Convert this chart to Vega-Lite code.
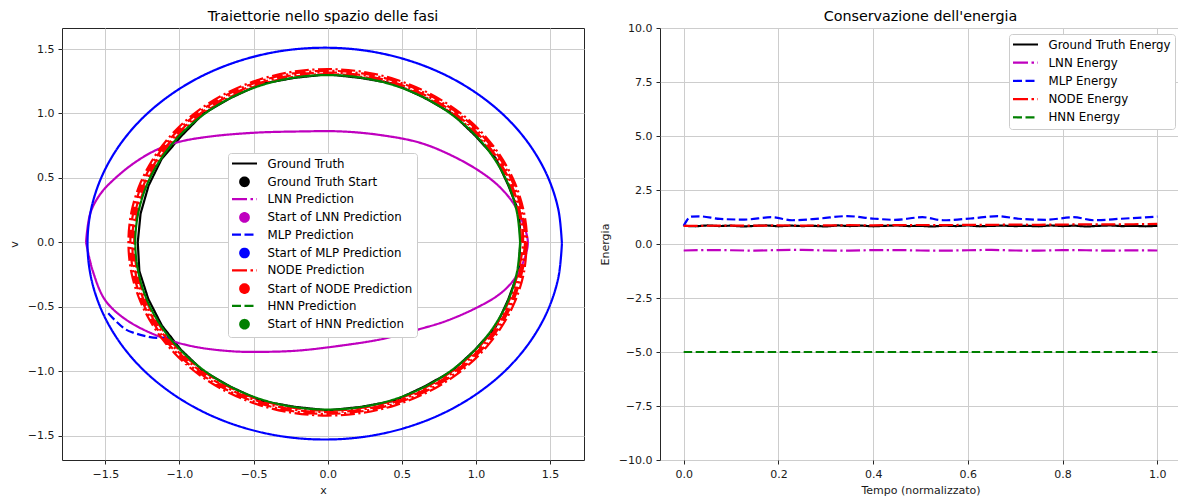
{
"$schema": "https://vega.github.io/schema/vega-lite/v6.json",
"padding": {"left": 7, "top": 9, "right": 0, "bottom": 0},
"spacing": 13,
"config": {
 "font": "DejaVu Sans",
 "view": {"stroke": "#262626", "strokeWidth": 1},
 "axis": {"labelFont": "DejaVu Sans", "labelFontSize": 11, "labelColor": "#1a1a1a", "titleFont": "DejaVu Sans", "titleFontSize": 11, "titleFontWeight": "normal", "titleColor": "#1a1a1a", "tickColor": "#262626", "tickSize": 4, "tickWidth": 1, "domain": false, "grid": true, "gridColor": "#cdcdcd", "gridWidth": 1, "labelPadding": 4, "labelOverlap": false, "labelFlush": false},
 "axisY": {"titlePadding": 8},
 "axisX": {"titlePadding": 5},
 "title": {"font": "DejaVu Sans", "fontSize": 14.3, "fontWeight": "normal", "color": "#000000"},
 "legend": {"labelFont": "DejaVu Sans", "labelFontSize": 11.8, "labelColor": "#000000", "symbolSize": 100, "symbolStrokeWidth": 2.2, "rowPadding": 5, "padding": 4, "fillColor": "#ffffff", "strokeColor": "#cccccc", "cornerRadius": 3, "symbolOffset": 6, "labelOffset": 16.5}
},
"datasets": {
 "starts": [
  {"s": "Ground Truth Start", "x": -1.069, "v": -0.735},
  {"s": "Start of LNN Prediction", "x": -1.069, "v": -0.735},
  {"s": "Start of MLP Prediction", "x": -1.069, "v": -0.735},
  {"s": "Start of NODE Prediction", "x": -1.069, "v": -0.735},
  {"s": "Start of HNN Prediction", "x": -1.069, "v": -0.735}
 ],
 "phase": [
  {"s":"Ground Truth","st":"solid","i":0,"x":1.300,"v":0},
  {"s":"Ground Truth","st":"solid","i":1,"x":1.292,"v":0.228},
  {"s":"Ground Truth","st":"solid","i":2,"x":1.218,"v":0.443},
  {"s":"Ground Truth","st":"solid","i":3,"x":1.133,"v":0.654},
  {"s":"Ground Truth","st":"solid","i":4,"x":0.991,"v":0.832},
  {"s":"Ground Truth","st":"solid","i":5,"x":0.839,"v":1.000},
  {"s":"Ground Truth","st":"solid","i":6,"x":0.649,"v":1.124},
  {"s":"Ground Truth","st":"solid","i":7,"x":0.448,"v":1.231},
  {"s":"Ground Truth","st":"solid","i":8,"x":0.225,"v":1.275},
  {"s":"Ground Truth","st":"solid","i":9,"x":0,"v":1.304},
  {"s":"Ground Truth","st":"solid","i":10,"x":-0.225,"v":1.276},
  {"s":"Ground Truth","st":"solid","i":11,"x":-0.448,"v":1.230},
  {"s":"Ground Truth","st":"solid","i":12,"x":-0.649,"v":1.123},
  {"s":"Ground Truth","st":"solid","i":13,"x":-0.839,"v":0.999},
  {"s":"Ground Truth","st":"solid","i":14,"x":-0.985,"v":0.827},
  {"s":"Ground Truth","st":"solid","i":15,"x":-1.120,"v":0.647},
  {"s":"Ground Truth","st":"solid","i":16,"x":-1.208,"v":0.440},
  {"s":"Ground Truth","st":"solid","i":17,"x":-1.262,"v":0.223},
  {"s":"Ground Truth","st":"solid","i":18,"x":-1.281,"v":0},
  {"s":"Ground Truth","st":"solid","i":19,"x":-1.270,"v":-0.224},
  {"s":"Ground Truth","st":"solid","i":20,"x":-1.210,"v":-0.440},
  {"s":"Ground Truth","st":"solid","i":21,"x":-1.118,"v":-0.646},
  {"s":"Ground Truth","st":"solid","i":22,"x":-0.991,"v":-0.832},
  {"s":"Ground Truth","st":"solid","i":23,"x":-0.839,"v":-1.000},
  {"s":"Ground Truth","st":"solid","i":24,"x":-0.649,"v":-1.124},
  {"s":"Ground Truth","st":"solid","i":25,"x":-0.448,"v":-1.231},
  {"s":"Ground Truth","st":"solid","i":26,"x":-0.225,"v":-1.276},
  {"s":"Ground Truth","st":"solid","i":27,"x":0,"v":-1.304},
  {"s":"Ground Truth","st":"solid","i":28,"x":0.225,"v":-1.277},
  {"s":"Ground Truth","st":"solid","i":29,"x":0.448,"v":-1.230},
  {"s":"Ground Truth","st":"solid","i":30,"x":0.648,"v":-1.121},
  {"s":"Ground Truth","st":"solid","i":31,"x":0.839,"v":-1.000},
  {"s":"Ground Truth","st":"solid","i":32,"x":0.994,"v":-0.834},
  {"s":"Ground Truth","st":"solid","i":33,"x":1.134,"v":-0.655},
  {"s":"Ground Truth","st":"solid","i":34,"x":1.218,"v":-0.443},
  {"s":"Ground Truth","st":"solid","i":35,"x":1.287,"v":-0.227},
  {"s":"Ground Truth","st":"solid","i":36,"x":1.300,"v":0},

  {"s":"LNN Prediction","st":"solid","i":0,"x":-1.63,"v":0.0},
  {"s":"LNN Prediction","st":"solid","i":1,"x":-1.60,"v":0.23},
  {"s":"LNN Prediction","st":"solid","i":2,"x":-1.53,"v":0.38},
  {"s":"LNN Prediction","st":"solid","i":3,"x":-1.44,"v":0.49},
  {"s":"LNN Prediction","st":"solid","i":4,"x":-1.30,"v":0.62},
  {"s":"LNN Prediction","st":"solid","i":5,"x":-1.15,"v":0.72},
  {"s":"LNN Prediction","st":"solid","i":6,"x":-1.0,"v":0.78},
  {"s":"LNN Prediction","st":"solid","i":7,"x":-0.8,"v":0.82},
  {"s":"LNN Prediction","st":"solid","i":8,"x":-0.5,"v":0.85},
  {"s":"LNN Prediction","st":"solid","i":9,"x":-0.2,"v":0.86},
  {"s":"LNN Prediction","st":"solid","i":10,"x":0.1,"v":0.86},
  {"s":"LNN Prediction","st":"solid","i":11,"x":0.37,"v":0.83},
  {"s":"LNN Prediction","st":"solid","i":12,"x":0.63,"v":0.77},
  {"s":"LNN Prediction","st":"solid","i":13,"x":0.86,"v":0.66},
  {"s":"LNN Prediction","st":"solid","i":14,"x":1.04,"v":0.54},
  {"s":"LNN Prediction","st":"solid","i":15,"x":1.16,"v":0.43},
  {"s":"LNN Prediction","st":"solid","i":16,"x":1.26,"v":0.29},
  {"s":"LNN Prediction","st":"solid","i":17,"x":1.32,"v":0.14},
  {"s":"LNN Prediction","st":"solid","i":18,"x":1.35,"v":0.0},
  {"s":"LNN Prediction","st":"solid","i":19,"x":1.32,"v":-0.15},
  {"s":"LNN Prediction","st":"solid","i":20,"x":1.25,"v":-0.30},
  {"s":"LNN Prediction","st":"solid","i":21,"x":1.15,"v":-0.41},
  {"s":"LNN Prediction","st":"solid","i":22,"x":1.0,"v":-0.51},
  {"s":"LNN Prediction","st":"solid","i":23,"x":0.8,"v":-0.61},
  {"s":"LNN Prediction","st":"solid","i":24,"x":0.6,"v":-0.68},
  {"s":"LNN Prediction","st":"solid","i":25,"x":0.37,"v":-0.75},
  {"s":"LNN Prediction","st":"solid","i":26,"x":0.1,"v":-0.80},
  {"s":"LNN Prediction","st":"solid","i":27,"x":-0.2,"v":-0.84},
  {"s":"LNN Prediction","st":"solid","i":28,"x":-0.45,"v":-0.85},
  {"s":"LNN Prediction","st":"solid","i":29,"x":-0.65,"v":-0.845},
  {"s":"LNN Prediction","st":"solid","i":30,"x":-0.91,"v":-0.807},
  {"s":"LNN Prediction","st":"solid","i":31,"x":-1.14,"v":-0.729},
  {"s":"LNN Prediction","st":"solid","i":32,"x":-1.36,"v":-0.60},
  {"s":"LNN Prediction","st":"solid","i":33,"x":-1.50,"v":-0.45},
  {"s":"LNN Prediction","st":"solid","i":34,"x":-1.585,"v":-0.22},
  {"s":"LNN Prediction","st":"solid","i":35,"x":-1.63,"v":0.0},

  {"s":"MLP Prediction","st":"dashed","i":0,"x":-1.069,"v":-0.735},
  {"s":"MLP Prediction","st":"dashed","i":1,"x":-1.15,"v":-0.742},
  {"s":"MLP Prediction","st":"dashed","i":2,"x":-1.226,"v":-0.729},
  {"s":"MLP Prediction","st":"dashed","i":3,"x":-1.30,"v":-0.705},
  {"s":"MLP Prediction","st":"dashed","i":4,"x":-1.361,"v":-0.677},
  {"s":"MLP Prediction","st":"dashed","i":5,"x":-1.43,"v":-0.61},
  {"s":"MLP Prediction","st":"dashed","i":6,"x":-1.496,"v":-0.53},

  {"s":"MLP Prediction","st":"solid","i":0,"x":1.580,"v":-0.010},
  {"s":"MLP Prediction","st":"solid","i":1,"x":1.556,"v":0.254},
  {"s":"MLP Prediction","st":"solid","i":2,"x":1.484,"v":0.510},
  {"s":"MLP Prediction","st":"solid","i":3,"x":1.366,"v":0.750},
  {"s":"MLP Prediction","st":"solid","i":4,"x":1.206,"v":0.967},
  {"s":"MLP Prediction","st":"solid","i":5,"x":1.008,"v":1.154},
  {"s":"MLP Prediction","st":"solid","i":6,"x":0.780,"v":1.306},
  {"s":"MLP Prediction","st":"solid","i":7,"x":0.527,"v":1.418},
  {"s":"MLP Prediction","st":"solid","i":8,"x":0.258,"v":1.487},
  {"s":"MLP Prediction","st":"solid","i":9,"x":-0.020,"v":1.510},
  {"s":"MLP Prediction","st":"solid","i":10,"x":-0.298,"v":1.487},
  {"s":"MLP Prediction","st":"solid","i":11,"x":-0.567,"v":1.418},
  {"s":"MLP Prediction","st":"solid","i":12,"x":-0.820,"v":1.306},
  {"s":"MLP Prediction","st":"solid","i":13,"x":-1.048,"v":1.154},
  {"s":"MLP Prediction","st":"solid","i":14,"x":-1.246,"v":0.967},
  {"s":"MLP Prediction","st":"solid","i":15,"x":-1.406,"v":0.750},
  {"s":"MLP Prediction","st":"solid","i":16,"x":-1.524,"v":0.510},
  {"s":"MLP Prediction","st":"solid","i":17,"x":-1.596,"v":0.254},
  {"s":"MLP Prediction","st":"solid","i":18,"x":-1.620,"v":-0.010},
  {"s":"MLP Prediction","st":"solid","i":19,"x":-1.596,"v":-0.274},
  {"s":"MLP Prediction","st":"solid","i":20,"x":-1.524,"v":-0.530},
  {"s":"MLP Prediction","st":"solid","i":21,"x":-1.406,"v":-0.770},
  {"s":"MLP Prediction","st":"solid","i":22,"x":-1.246,"v":-0.987},
  {"s":"MLP Prediction","st":"solid","i":23,"x":-1.048,"v":-1.174},
  {"s":"MLP Prediction","st":"solid","i":24,"x":-0.820,"v":-1.326},
  {"s":"MLP Prediction","st":"solid","i":25,"x":-0.567,"v":-1.438},
  {"s":"MLP Prediction","st":"solid","i":26,"x":-0.298,"v":-1.507},
  {"s":"MLP Prediction","st":"solid","i":27,"x":-0.020,"v":-1.530},
  {"s":"MLP Prediction","st":"solid","i":28,"x":0.258,"v":-1.507},
  {"s":"MLP Prediction","st":"solid","i":29,"x":0.527,"v":-1.438},
  {"s":"MLP Prediction","st":"solid","i":30,"x":0.780,"v":-1.326},
  {"s":"MLP Prediction","st":"solid","i":31,"x":1.008,"v":-1.174},
  {"s":"MLP Prediction","st":"solid","i":32,"x":1.206,"v":-0.987},
  {"s":"MLP Prediction","st":"solid","i":33,"x":1.366,"v":-0.770},
  {"s":"MLP Prediction","st":"solid","i":34,"x":1.484,"v":-0.530},
  {"s":"MLP Prediction","st":"solid","i":35,"x":1.556,"v":-0.274},
  {"s":"MLP Prediction","st":"solid","i":36,"x":1.580,"v":-0.010},

  {"s":"NODE Prediction","st":"dashdot","i":0,"x":1.305,"v":0},
  {"s":"NODE Prediction","st":"dashdot","i":1,"x":1.285,"v":0.227},
  {"s":"NODE Prediction","st":"dashdot","i":2,"x":1.226,"v":0.446},
  {"s":"NODE Prediction","st":"dashdot","i":3,"x":1.130,"v":0.653},
  {"s":"NODE Prediction","st":"dashdot","i":4,"x":1.000,"v":0.839},
  {"s":"NODE Prediction","st":"dashdot","i":5,"x":0.839,"v":1.000},
  {"s":"NODE Prediction","st":"dashdot","i":6,"x":0.653,"v":1.130},
  {"s":"NODE Prediction","st":"dashdot","i":7,"x":0.446,"v":1.226},
  {"s":"NODE Prediction","st":"dashdot","i":8,"x":0.227,"v":1.285},
  {"s":"NODE Prediction","st":"dashdot","i":9,"x":0,"v":1.305},
  {"s":"NODE Prediction","st":"dashdot","i":10,"x":-0.227,"v":1.285},
  {"s":"NODE Prediction","st":"dashdot","i":11,"x":-0.446,"v":1.226},
  {"s":"NODE Prediction","st":"dashdot","i":12,"x":-0.653,"v":1.130},
  {"s":"NODE Prediction","st":"dashdot","i":13,"x":-0.839,"v":1.000},
  {"s":"NODE Prediction","st":"dashdot","i":14,"x":-1.000,"v":0.839},
  {"s":"NODE Prediction","st":"dashdot","i":15,"x":-1.130,"v":0.653},
  {"s":"NODE Prediction","st":"dashdot","i":16,"x":-1.226,"v":0.446},
  {"s":"NODE Prediction","st":"dashdot","i":17,"x":-1.285,"v":0.227},
  {"s":"NODE Prediction","st":"dashdot","i":18,"x":-1.305,"v":0},
  {"s":"NODE Prediction","st":"dashdot","i":19,"x":-1.285,"v":-0.227},
  {"s":"NODE Prediction","st":"dashdot","i":20,"x":-1.226,"v":-0.446},
  {"s":"NODE Prediction","st":"dashdot","i":21,"x":-1.130,"v":-0.653},
  {"s":"NODE Prediction","st":"dashdot","i":22,"x":-1.000,"v":-0.839},
  {"s":"NODE Prediction","st":"dashdot","i":23,"x":-0.839,"v":-1.000},
  {"s":"NODE Prediction","st":"dashdot","i":24,"x":-0.653,"v":-1.130},
  {"s":"NODE Prediction","st":"dashdot","i":25,"x":-0.446,"v":-1.226},
  {"s":"NODE Prediction","st":"dashdot","i":26,"x":-0.227,"v":-1.285},
  {"s":"NODE Prediction","st":"dashdot","i":27,"x":0,"v":-1.305},
  {"s":"NODE Prediction","st":"dashdot","i":28,"x":0.227,"v":-1.285},
  {"s":"NODE Prediction","st":"dashdot","i":29,"x":0.446,"v":-1.226},
  {"s":"NODE Prediction","st":"dashdot","i":30,"x":0.653,"v":-1.130},
  {"s":"NODE Prediction","st":"dashdot","i":31,"x":0.839,"v":-1.000},
  {"s":"NODE Prediction","st":"dashdot","i":32,"x":1.000,"v":-0.839},
  {"s":"NODE Prediction","st":"dashdot","i":33,"x":1.130,"v":-0.653},
  {"s":"NODE Prediction","st":"dashdot","i":34,"x":1.226,"v":-0.446},
  {"s":"NODE Prediction","st":"dashdot","i":35,"x":1.285,"v":-0.227},
  {"s":"NODE Prediction","st":"dashdot","i":36,"x":1.318,"v":0},
  {"s":"NODE Prediction","st":"dashdot","i":37,"x":1.298,"v":0.229},
  {"s":"NODE Prediction","st":"dashdot","i":38,"x":1.239,"v":0.451},
  {"s":"NODE Prediction","st":"dashdot","i":39,"x":1.141,"v":0.659},
  {"s":"NODE Prediction","st":"dashdot","i":40,"x":1.010,"v":0.847},
  {"s":"NODE Prediction","st":"dashdot","i":41,"x":0.847,"v":1.010},
  {"s":"NODE Prediction","st":"dashdot","i":42,"x":0.659,"v":1.141},
  {"s":"NODE Prediction","st":"dashdot","i":43,"x":0.451,"v":1.239},
  {"s":"NODE Prediction","st":"dashdot","i":44,"x":0.229,"v":1.298},
  {"s":"NODE Prediction","st":"dashdot","i":45,"x":0,"v":1.318},
  {"s":"NODE Prediction","st":"dashdot","i":46,"x":-0.229,"v":1.298},
  {"s":"NODE Prediction","st":"dashdot","i":47,"x":-0.451,"v":1.239},
  {"s":"NODE Prediction","st":"dashdot","i":48,"x":-0.659,"v":1.141},
  {"s":"NODE Prediction","st":"dashdot","i":49,"x":-0.847,"v":1.010},
  {"s":"NODE Prediction","st":"dashdot","i":50,"x":-1.010,"v":0.847},
  {"s":"NODE Prediction","st":"dashdot","i":51,"x":-1.141,"v":0.659},
  {"s":"NODE Prediction","st":"dashdot","i":52,"x":-1.239,"v":0.451},
  {"s":"NODE Prediction","st":"dashdot","i":53,"x":-1.298,"v":0.229},
  {"s":"NODE Prediction","st":"dashdot","i":54,"x":-1.318,"v":0},
  {"s":"NODE Prediction","st":"dashdot","i":55,"x":-1.298,"v":-0.229},
  {"s":"NODE Prediction","st":"dashdot","i":56,"x":-1.239,"v":-0.451},
  {"s":"NODE Prediction","st":"dashdot","i":57,"x":-1.141,"v":-0.659},
  {"s":"NODE Prediction","st":"dashdot","i":58,"x":-1.010,"v":-0.847},
  {"s":"NODE Prediction","st":"dashdot","i":59,"x":-0.847,"v":-1.010},
  {"s":"NODE Prediction","st":"dashdot","i":60,"x":-0.659,"v":-1.141},
  {"s":"NODE Prediction","st":"dashdot","i":61,"x":-0.451,"v":-1.239},
  {"s":"NODE Prediction","st":"dashdot","i":62,"x":-0.229,"v":-1.298},
  {"s":"NODE Prediction","st":"dashdot","i":63,"x":0,"v":-1.318},
  {"s":"NODE Prediction","st":"dashdot","i":64,"x":0.229,"v":-1.298},
  {"s":"NODE Prediction","st":"dashdot","i":65,"x":0.451,"v":-1.239},
  {"s":"NODE Prediction","st":"dashdot","i":66,"x":0.659,"v":-1.141},
  {"s":"NODE Prediction","st":"dashdot","i":67,"x":0.847,"v":-1.010},
  {"s":"NODE Prediction","st":"dashdot","i":68,"x":1.010,"v":-0.847},
  {"s":"NODE Prediction","st":"dashdot","i":69,"x":1.141,"v":-0.659},
  {"s":"NODE Prediction","st":"dashdot","i":70,"x":1.239,"v":-0.451},
  {"s":"NODE Prediction","st":"dashdot","i":71,"x":1.298,"v":-0.229},
  {"s":"NODE Prediction","st":"dashdot","i":72,"x":1.331,"v":0},
  {"s":"NODE Prediction","st":"dashdot","i":73,"x":1.311,"v":0.231},
  {"s":"NODE Prediction","st":"dashdot","i":74,"x":1.251,"v":0.455},
  {"s":"NODE Prediction","st":"dashdot","i":75,"x":1.153,"v":0.666},
  {"s":"NODE Prediction","st":"dashdot","i":76,"x":1.020,"v":0.856},
  {"s":"NODE Prediction","st":"dashdot","i":77,"x":0.856,"v":1.020},
  {"s":"NODE Prediction","st":"dashdot","i":78,"x":0.666,"v":1.153},
  {"s":"NODE Prediction","st":"dashdot","i":79,"x":0.455,"v":1.251},
  {"s":"NODE Prediction","st":"dashdot","i":80,"x":0.231,"v":1.311},
  {"s":"NODE Prediction","st":"dashdot","i":81,"x":0,"v":1.331},
  {"s":"NODE Prediction","st":"dashdot","i":82,"x":-0.231,"v":1.311},
  {"s":"NODE Prediction","st":"dashdot","i":83,"x":-0.455,"v":1.251},
  {"s":"NODE Prediction","st":"dashdot","i":84,"x":-0.666,"v":1.153},
  {"s":"NODE Prediction","st":"dashdot","i":85,"x":-0.856,"v":1.020},
  {"s":"NODE Prediction","st":"dashdot","i":86,"x":-1.020,"v":0.856},
  {"s":"NODE Prediction","st":"dashdot","i":87,"x":-1.153,"v":0.666},
  {"s":"NODE Prediction","st":"dashdot","i":88,"x":-1.251,"v":0.455},
  {"s":"NODE Prediction","st":"dashdot","i":89,"x":-1.311,"v":0.231},
  {"s":"NODE Prediction","st":"dashdot","i":90,"x":-1.331,"v":0},
  {"s":"NODE Prediction","st":"dashdot","i":91,"x":-1.311,"v":-0.231},
  {"s":"NODE Prediction","st":"dashdot","i":92,"x":-1.251,"v":-0.455},
  {"s":"NODE Prediction","st":"dashdot","i":93,"x":-1.153,"v":-0.666},
  {"s":"NODE Prediction","st":"dashdot","i":94,"x":-1.020,"v":-0.856},
  {"s":"NODE Prediction","st":"dashdot","i":95,"x":-0.856,"v":-1.020},
  {"s":"NODE Prediction","st":"dashdot","i":96,"x":-0.666,"v":-1.153},
  {"s":"NODE Prediction","st":"dashdot","i":97,"x":-0.455,"v":-1.251},
  {"s":"NODE Prediction","st":"dashdot","i":98,"x":-0.231,"v":-1.311},
  {"s":"NODE Prediction","st":"dashdot","i":99,"x":0,"v":-1.331},
  {"s":"NODE Prediction","st":"dashdot","i":100,"x":0.231,"v":-1.311},
  {"s":"NODE Prediction","st":"dashdot","i":101,"x":0.455,"v":-1.251},
  {"s":"NODE Prediction","st":"dashdot","i":102,"x":0.666,"v":-1.153},
  {"s":"NODE Prediction","st":"dashdot","i":103,"x":0.856,"v":-1.020},
  {"s":"NODE Prediction","st":"dashdot","i":104,"x":1.020,"v":-0.856},
  {"s":"NODE Prediction","st":"dashdot","i":105,"x":1.153,"v":-0.666},
  {"s":"NODE Prediction","st":"dashdot","i":106,"x":1.251,"v":-0.455},
  {"s":"NODE Prediction","st":"dashdot","i":107,"x":1.311,"v":-0.231},
  {"s":"NODE Prediction","st":"dashdot","i":108,"x":1.344,"v":0},
  {"s":"NODE Prediction","st":"dashdot","i":109,"x":1.324,"v":0.233},
  {"s":"NODE Prediction","st":"dashdot","i":110,"x":1.263,"v":0.460},
  {"s":"NODE Prediction","st":"dashdot","i":111,"x":1.164,"v":0.672},
  {"s":"NODE Prediction","st":"dashdot","i":112,"x":1.030,"v":0.864},
  {"s":"NODE Prediction","st":"dashdot","i":113,"x":0.864,"v":1.030},
  {"s":"NODE Prediction","st":"dashdot","i":114,"x":0.672,"v":1.164},
  {"s":"NODE Prediction","st":"dashdot","i":115,"x":0.460,"v":1.263},
  {"s":"NODE Prediction","st":"dashdot","i":116,"x":0.233,"v":1.324},
  {"s":"NODE Prediction","st":"dashdot","i":117,"x":0,"v":1.344},
  {"s":"NODE Prediction","st":"dashdot","i":118,"x":-0.233,"v":1.324},
  {"s":"NODE Prediction","st":"dashdot","i":119,"x":-0.460,"v":1.263},
  {"s":"NODE Prediction","st":"dashdot","i":120,"x":-0.672,"v":1.164},
  {"s":"NODE Prediction","st":"dashdot","i":121,"x":-0.864,"v":1.030},
  {"s":"NODE Prediction","st":"dashdot","i":122,"x":-1.030,"v":0.864},
  {"s":"NODE Prediction","st":"dashdot","i":123,"x":-1.164,"v":0.672},
  {"s":"NODE Prediction","st":"dashdot","i":124,"x":-1.263,"v":0.460},
  {"s":"NODE Prediction","st":"dashdot","i":125,"x":-1.324,"v":0.233},
  {"s":"NODE Prediction","st":"dashdot","i":126,"x":-1.344,"v":0},
  {"s":"NODE Prediction","st":"dashdot","i":127,"x":-1.324,"v":-0.233},
  {"s":"NODE Prediction","st":"dashdot","i":128,"x":-1.263,"v":-0.460},
  {"s":"NODE Prediction","st":"dashdot","i":129,"x":-1.164,"v":-0.672},
  {"s":"NODE Prediction","st":"dashdot","i":130,"x":-1.030,"v":-0.864},
  {"s":"NODE Prediction","st":"dashdot","i":131,"x":-0.864,"v":-1.030},
  {"s":"NODE Prediction","st":"dashdot","i":132,"x":-0.672,"v":-1.164},
  {"s":"NODE Prediction","st":"dashdot","i":133,"x":-0.460,"v":-1.263},
  {"s":"NODE Prediction","st":"dashdot","i":134,"x":-0.233,"v":-1.324},
  {"s":"NODE Prediction","st":"dashdot","i":135,"x":0,"v":-1.344},
  {"s":"NODE Prediction","st":"dashdot","i":136,"x":0.233,"v":-1.324},
  {"s":"NODE Prediction","st":"dashdot","i":137,"x":0.460,"v":-1.263},
  {"s":"NODE Prediction","st":"dashdot","i":138,"x":0.672,"v":-1.164},
  {"s":"NODE Prediction","st":"dashdot","i":139,"x":0.864,"v":-1.030},
  {"s":"NODE Prediction","st":"dashdot","i":140,"x":1.030,"v":-0.864},
  {"s":"NODE Prediction","st":"dashdot","i":141,"x":1.164,"v":-0.672},
  {"s":"NODE Prediction","st":"dashdot","i":142,"x":1.263,"v":-0.460},
  {"s":"NODE Prediction","st":"dashdot","i":143,"x":1.324,"v":-0.233},
  {"s":"NODE Prediction","st":"dashdot","i":144,"x":1.344,"v":0},

  {"s":"HNN Prediction","st":"solid","i":0,"x":1.298,"v":0},
  {"s":"HNN Prediction","st":"solid","i":1,"x":1.278,"v":0.225},
  {"s":"HNN Prediction","st":"solid","i":2,"x":1.220,"v":0.444},
  {"s":"HNN Prediction","st":"solid","i":3,"x":1.124,"v":0.649},
  {"s":"HNN Prediction","st":"solid","i":4,"x":0.994,"v":0.834},
  {"s":"HNN Prediction","st":"solid","i":5,"x":0.834,"v":0.994},
  {"s":"HNN Prediction","st":"solid","i":6,"x":0.649,"v":1.124},
  {"s":"HNN Prediction","st":"solid","i":7,"x":0.444,"v":1.220},
  {"s":"HNN Prediction","st":"solid","i":8,"x":0.225,"v":1.278},
  {"s":"HNN Prediction","st":"solid","i":9,"x":0,"v":1.298},
  {"s":"HNN Prediction","st":"solid","i":10,"x":-0.225,"v":1.278},
  {"s":"HNN Prediction","st":"solid","i":11,"x":-0.444,"v":1.220},
  {"s":"HNN Prediction","st":"solid","i":12,"x":-0.649,"v":1.124},
  {"s":"HNN Prediction","st":"solid","i":13,"x":-0.834,"v":0.994},
  {"s":"HNN Prediction","st":"solid","i":14,"x":-0.994,"v":0.834},
  {"s":"HNN Prediction","st":"solid","i":15,"x":-1.124,"v":0.649},
  {"s":"HNN Prediction","st":"solid","i":16,"x":-1.220,"v":0.444},
  {"s":"HNN Prediction","st":"solid","i":17,"x":-1.278,"v":0.225},
  {"s":"HNN Prediction","st":"solid","i":18,"x":-1.298,"v":0},
  {"s":"HNN Prediction","st":"solid","i":19,"x":-1.278,"v":-0.225},
  {"s":"HNN Prediction","st":"solid","i":20,"x":-1.220,"v":-0.444},
  {"s":"HNN Prediction","st":"solid","i":21,"x":-1.124,"v":-0.649},
  {"s":"HNN Prediction","st":"solid","i":22,"x":-0.994,"v":-0.834},
  {"s":"HNN Prediction","st":"solid","i":23,"x":-0.834,"v":-0.994},
  {"s":"HNN Prediction","st":"solid","i":24,"x":-0.649,"v":-1.124},
  {"s":"HNN Prediction","st":"solid","i":25,"x":-0.444,"v":-1.220},
  {"s":"HNN Prediction","st":"solid","i":26,"x":-0.225,"v":-1.278},
  {"s":"HNN Prediction","st":"solid","i":27,"x":0,"v":-1.298},
  {"s":"HNN Prediction","st":"solid","i":28,"x":0.225,"v":-1.278},
  {"s":"HNN Prediction","st":"solid","i":29,"x":0.444,"v":-1.220},
  {"s":"HNN Prediction","st":"solid","i":30,"x":0.649,"v":-1.124},
  {"s":"HNN Prediction","st":"solid","i":31,"x":0.834,"v":-0.994},
  {"s":"HNN Prediction","st":"solid","i":32,"x":0.994,"v":-0.834},
  {"s":"HNN Prediction","st":"solid","i":33,"x":1.124,"v":-0.649},
  {"s":"HNN Prediction","st":"solid","i":34,"x":1.220,"v":-0.444},
  {"s":"HNN Prediction","st":"solid","i":35,"x":1.278,"v":-0.225},
  {"s":"HNN Prediction","st":"solid","i":36,"x":1.298,"v":0}
 ],
 "energy": [
  {"s":"Ground Truth Energy","st":"solid","t":0,"e":0.84},
  {"s":"Ground Truth Energy","st":"solid","t":0.025,"e":0.82},
  {"s":"Ground Truth Energy","st":"solid","t":0.05,"e":0.86},
  {"s":"Ground Truth Energy","st":"solid","t":0.075,"e":0.83},
  {"s":"Ground Truth Energy","st":"solid","t":0.1,"e":0.85},
  {"s":"Ground Truth Energy","st":"solid","t":0.125,"e":0.81},
  {"s":"Ground Truth Energy","st":"solid","t":0.15,"e":0.84},
  {"s":"Ground Truth Energy","st":"solid","t":0.175,"e":0.86},
  {"s":"Ground Truth Energy","st":"solid","t":0.2,"e":0.82},
  {"s":"Ground Truth Energy","st":"solid","t":0.225,"e":0.85},
  {"s":"Ground Truth Energy","st":"solid","t":0.25,"e":0.83},
  {"s":"Ground Truth Energy","st":"solid","t":0.275,"e":0.84},
  {"s":"Ground Truth Energy","st":"solid","t":0.3,"e":0.81},
  {"s":"Ground Truth Energy","st":"solid","t":0.325,"e":0.86},
  {"s":"Ground Truth Energy","st":"solid","t":0.35,"e":0.83},
  {"s":"Ground Truth Energy","st":"solid","t":0.375,"e":0.85},
  {"s":"Ground Truth Energy","st":"solid","t":0.4,"e":0.82},
  {"s":"Ground Truth Energy","st":"solid","t":0.425,"e":0.84},
  {"s":"Ground Truth Energy","st":"solid","t":0.45,"e":0.86},
  {"s":"Ground Truth Energy","st":"solid","t":0.475,"e":0.83},
  {"s":"Ground Truth Energy","st":"solid","t":0.5,"e":0.84},
  {"s":"Ground Truth Energy","st":"solid","t":0.525,"e":0.81},
  {"s":"Ground Truth Energy","st":"solid","t":0.55,"e":0.85},
  {"s":"Ground Truth Energy","st":"solid","t":0.575,"e":0.83},
  {"s":"Ground Truth Energy","st":"solid","t":0.6,"e":0.86},
  {"s":"Ground Truth Energy","st":"solid","t":0.625,"e":0.82},
  {"s":"Ground Truth Energy","st":"solid","t":0.65,"e":0.84},
  {"s":"Ground Truth Energy","st":"solid","t":0.675,"e":0.85},
  {"s":"Ground Truth Energy","st":"solid","t":0.7,"e":0.83},
  {"s":"Ground Truth Energy","st":"solid","t":0.725,"e":0.84},
  {"s":"Ground Truth Energy","st":"solid","t":0.75,"e":0.82},
  {"s":"Ground Truth Energy","st":"solid","t":0.775,"e":0.86},
  {"s":"Ground Truth Energy","st":"solid","t":0.8,"e":0.83},
  {"s":"Ground Truth Energy","st":"solid","t":0.825,"e":0.85},
  {"s":"Ground Truth Energy","st":"solid","t":0.85,"e":0.81},
  {"s":"Ground Truth Energy","st":"solid","t":0.875,"e":0.84},
  {"s":"Ground Truth Energy","st":"solid","t":0.9,"e":0.86},
  {"s":"Ground Truth Energy","st":"solid","t":0.925,"e":0.83},
  {"s":"Ground Truth Energy","st":"solid","t":0.95,"e":0.84},
  {"s":"Ground Truth Energy","st":"solid","t":0.975,"e":0.82},
  {"s":"Ground Truth Energy","st":"solid","t":1.0,"e":0.84},

  {"s":"LNN Energy","st":"dashdot","t":0,"e":-0.30},
  {"s":"LNN Energy","st":"dashdot","t":0.05,"e":-0.28},
  {"s":"LNN Energy","st":"dashdot","t":0.1,"e":-0.29},
  {"s":"LNN Energy","st":"dashdot","t":0.15,"e":-0.31},
  {"s":"LNN Energy","st":"dashdot","t":0.2,"e":-0.28},
  {"s":"LNN Energy","st":"dashdot","t":0.25,"e":-0.27},
  {"s":"LNN Energy","st":"dashdot","t":0.3,"e":-0.30},
  {"s":"LNN Energy","st":"dashdot","t":0.35,"e":-0.31},
  {"s":"LNN Energy","st":"dashdot","t":0.4,"e":-0.28},
  {"s":"LNN Energy","st":"dashdot","t":0.45,"e":-0.28},
  {"s":"LNN Energy","st":"dashdot","t":0.5,"e":-0.30},
  {"s":"LNN Energy","st":"dashdot","t":0.55,"e":-0.31},
  {"s":"LNN Energy","st":"dashdot","t":0.6,"e":-0.29},
  {"s":"LNN Energy","st":"dashdot","t":0.65,"e":-0.27},
  {"s":"LNN Energy","st":"dashdot","t":0.7,"e":-0.30},
  {"s":"LNN Energy","st":"dashdot","t":0.75,"e":-0.31},
  {"s":"LNN Energy","st":"dashdot","t":0.8,"e":-0.28},
  {"s":"LNN Energy","st":"dashdot","t":0.85,"e":-0.29},
  {"s":"LNN Energy","st":"dashdot","t":0.9,"e":-0.31},
  {"s":"LNN Energy","st":"dashdot","t":0.95,"e":-0.29},
  {"s":"LNN Energy","st":"dashdot","t":1.0,"e":-0.30},

  {"s":"MLP Energy","st":"dashed","t":0,"e":0.84},
  {"s":"MLP Energy","st":"dashed","t":0.016,"e":1.27},
  {"s":"MLP Energy","st":"dashed","t":0.034,"e":1.28},
  {"s":"MLP Energy","st":"dashed","t":0.077,"e":1.16},
  {"s":"MLP Energy","st":"dashed","t":0.128,"e":1.13},
  {"s":"MLP Energy","st":"dashed","t":0.186,"e":1.24},
  {"s":"MLP Energy","st":"dashed","t":0.229,"e":1.10},
  {"s":"MLP Energy","st":"dashed","t":0.287,"e":1.18},
  {"s":"MLP Energy","st":"dashed","t":0.345,"e":1.29},
  {"s":"MLP Energy","st":"dashed","t":0.403,"e":1.17},
  {"s":"MLP Energy","st":"dashed","t":0.446,"e":1.12},
  {"s":"MLP Energy","st":"dashed","t":0.504,"e":1.24},
  {"s":"MLP Energy","st":"dashed","t":0.548,"e":1.10},
  {"s":"MLP Energy","st":"dashed","t":0.606,"e":1.18},
  {"s":"MLP Energy","st":"dashed","t":0.664,"e":1.29},
  {"s":"MLP Energy","st":"dashed","t":0.707,"e":1.17},
  {"s":"MLP Energy","st":"dashed","t":0.765,"e":1.12},
  {"s":"MLP Energy","st":"dashed","t":0.823,"e":1.24},
  {"s":"MLP Energy","st":"dashed","t":0.866,"e":1.10},
  {"s":"MLP Energy","st":"dashed","t":0.924,"e":1.17},
  {"s":"MLP Energy","st":"dashed","t":1.0,"e":1.27},

  {"s":"NODE Energy","st":"dashdot","t":0,"e":0.84},
  {"s":"NODE Energy","st":"dashdot","t":0.05,"e":0.845},
  {"s":"NODE Energy","st":"dashdot","t":0.1,"e":0.85},
  {"s":"NODE Energy","st":"dashdot","t":0.15,"e":0.85},
  {"s":"NODE Energy","st":"dashdot","t":0.2,"e":0.86},
  {"s":"NODE Energy","st":"dashdot","t":0.25,"e":0.855},
  {"s":"NODE Energy","st":"dashdot","t":0.3,"e":0.86},
  {"s":"NODE Energy","st":"dashdot","t":0.35,"e":0.87},
  {"s":"NODE Energy","st":"dashdot","t":0.4,"e":0.865},
  {"s":"NODE Energy","st":"dashdot","t":0.45,"e":0.875},
  {"s":"NODE Energy","st":"dashdot","t":0.5,"e":0.88},
  {"s":"NODE Energy","st":"dashdot","t":0.55,"e":0.875},
  {"s":"NODE Energy","st":"dashdot","t":0.6,"e":0.885},
  {"s":"NODE Energy","st":"dashdot","t":0.65,"e":0.89},
  {"s":"NODE Energy","st":"dashdot","t":0.7,"e":0.895},
  {"s":"NODE Energy","st":"dashdot","t":0.75,"e":0.89},
  {"s":"NODE Energy","st":"dashdot","t":0.8,"e":0.90},
  {"s":"NODE Energy","st":"dashdot","t":0.85,"e":0.91},
  {"s":"NODE Energy","st":"dashdot","t":0.9,"e":0.905},
  {"s":"NODE Energy","st":"dashdot","t":0.95,"e":0.915},
  {"s":"NODE Energy","st":"dashdot","t":1.0,"e":0.93},

  {"s":"HNN Energy","st":"dashed","t":0,"e":-5.0},
  {"s":"HNN Energy","st":"dashed","t":0.5,"e":-5.0},
  {"s":"HNN Energy","st":"dashed","t":1.0,"e":-5.0}
 ]
},
"resolve": {"scale": {"color": "independent", "strokeDash": "independent"}, "legend": {"color": "independent", "strokeDash": "independent"}},
"hconcat": [
 {
  "width": 522, "height": 432,
  "title": {"text": "Traiettorie nello spazio delle fasi", "offset": 4},
  "data": {"name": "phase"},
  "encoding": {
   "x": {"field": "x", "type": "quantitative", "scale": {"domain": [-1.792, 1.729], "nice": false, "zero": false}, "axis": {"values": [-1.5, -1, -0.5, 0, 0.5, 1, 1.5], "labelExpr": "replace(format(datum.value, '.1f'), '-', '−')", "title": "x"}},
   "y": {"field": "v", "type": "quantitative", "scale": {"domain": [-1.689, 1.663], "nice": false, "zero": false}, "axis": {"values": [-1.5, -1, -0.5, 0, 0.5, 1, 1.5], "labelExpr": "replace(format(datum.value, '.1f'), '-', '−')", "title": "v"}},
   "color": {"field": "s", "type": "nominal",
    "scale": {"domain": ["Ground Truth", "Ground Truth Start", "LNN Prediction", "Start of LNN Prediction", "MLP Prediction", "Start of MLP Prediction", "NODE Prediction", "Start of NODE Prediction", "HNN Prediction", "Start of HNN Prediction"],
              "range": ["#000000", "#000000", "#bf00bf", "#bf00bf", "#0000ff", "#0000ff", "#ff0000", "#ff0000", "#008000", "#008000"]},
    "legend": {"title": null, "orient": "none", "legendX": 166, "legendY": 125, "rowPadding": 1.3,
     "encode": {"symbols": {"update": {
      "shape": {"signal": "indexof(datum.value,'Start')>=0 ? 'M-0.85,0A0.85,0.85,0,1,1,0.85,0A0.85,0.85,0,1,1,-0.85,0Z' : 'M-2.5,0H2.5'"},
      "fill": {"signal": "indexof(datum.value,'Start')>=0 ? (indexof(datum.value,'LNN')>=0 ? '#bf00bf' : indexof(datum.value,'MLP')>=0 ? '#0000ff' : indexof(datum.value,'NODE')>=0 ? '#ff0000' : indexof(datum.value,'HNN')>=0 ? '#008000' : '#000000') : 'transparent'"},
      "stroke": {"signal": "indexof(datum.value,'Start')>=0 ? 'transparent' : (indexof(datum.value,'LNN')>=0 ? '#bf00bf' : indexof(datum.value,'MLP')>=0 ? '#0000ff' : indexof(datum.value,'NODE')>=0 ? '#ff0000' : indexof(datum.value,'HNN')>=0 ? '#008000' : '#000000')"},
      "strokeDash": {"signal": "(datum.value == 'LNN Prediction' || datum.value == 'NODE Prediction') ? [15, 3.5, 2.5, 3.5] : ((datum.value == 'MLP Prediction' || datum.value == 'HNN Prediction') ? [9, 3.5] : [1, 0])"}
     }}}
    }
   }
  },
  "layer": [
   {"data": {"name": "starts"}, "mark": {"type": "point", "filled": true, "size": 20, "opacity": 1}},
   {
    "encoding": {
     "order": {"field": "i", "type": "quantitative"},
     "strokeDash": {"field": "st", "type": "nominal", "scale": {"domain": ["solid", "dashed", "dashdot"], "range": [[1, 0], [8.5, 3.5], [14, 3.5, 2.2, 3.5]]}, "legend": null}
    },
    "layer": [
     {"transform": [{"filter": "datum.s == 'Ground Truth'"}], "mark": {"type": "line", "strokeWidth": 2.2}},
     {"transform": [{"filter": "datum.s == 'LNN Prediction'"}], "mark": {"type": "line", "strokeWidth": 2.2, "interpolate": "catmull-rom"}},
     {"transform": [{"filter": "datum.s == 'MLP Prediction'"}], "mark": {"type": "line", "strokeWidth": 2.2, "interpolate": "catmull-rom"}},
     {"transform": [{"filter": "datum.s == 'NODE Prediction'"}], "mark": {"type": "line", "strokeWidth": 2.2, "interpolate": "catmull-rom"}},
     {"transform": [{"filter": "datum.s == 'HNN Prediction'"}], "mark": {"type": "line", "strokeWidth": 2.2, "interpolate": "catmull-rom"}}
    ]
   }
  ]
 },
 {
  "width": 521, "height": 432,
  "title": {"text": "Conservazione dell'energia", "offset": -2},
  "data": {"name": "energy"},
  "encoding": {
   "x": {"field": "t", "type": "quantitative", "scale": {"domain": [-0.05, 1.05], "nice": false, "zero": false}, "axis": {"values": [0, 0.2, 0.4, 0.6, 0.8, 1.0], "labelExpr": "format(datum.value, '.1f')", "title": "Tempo (normalizzato)"}},
   "y": {"field": "e", "type": "quantitative", "scale": {"domain": [-10, 10], "nice": false, "zero": false}, "axis": {"values": [-10, -7.5, -5, -2.5, 0, 2.5, 5, 7.5, 10], "labelExpr": "replace(format(datum.value, '.1f'), '-', '−')", "title": "Energia"}},
   "color": {"field": "s", "type": "nominal",
    "scale": {"domain": ["Ground Truth Energy", "LNN Energy", "MLP Energy", "NODE Energy", "HNN Energy"], "range": ["#000000", "#bf00bf", "#0000ff", "#ff0000", "#008000"]},
    "legend": {"title": null, "orient": "none", "legendX": 349, "legendY": 6, "rowPadding": 4.2,
     "encode": {"symbols": {"update": {
      "shape": {"value": "M-2.5,0H2.5"},
      "fill": {"value": "transparent"},
      "strokeDash": {"signal": "(datum.value == 'LNN Energy' || datum.value == 'NODE Energy') ? [15, 3.5, 2.5, 3.5] : ((datum.value == 'MLP Energy' || datum.value == 'HNN Energy') ? [9, 3.5] : [1, 0])"}
     }}}
    }
   },
   "strokeDash": {"field": "st", "type": "nominal", "scale": {"domain": ["solid", "dashed", "dashdot"], "range": [[1, 0], [8.5, 3.5], [14, 3.5, 2.2, 3.5]]}, "legend": null},
   "order": {"field": "t", "type": "quantitative"}
  },
  "layer": [
   {"transform": [{"filter": "datum.s == 'Ground Truth Energy'"}], "mark": {"type": "line", "strokeWidth": 2.2}},
   {"transform": [{"filter": "datum.s == 'LNN Energy'"}], "mark": {"type": "line", "strokeWidth": 2.2}},
   {"transform": [{"filter": "datum.s == 'MLP Energy'"}], "mark": {"type": "line", "strokeWidth": 2.2, "interpolate": "monotone"}},
   {"transform": [{"filter": "datum.s == 'NODE Energy'"}], "mark": {"type": "line", "strokeWidth": 2.2}},
   {"transform": [{"filter": "datum.s == 'HNN Energy'"}], "mark": {"type": "line", "strokeWidth": 2.2}}
  ]
 }
]
}
